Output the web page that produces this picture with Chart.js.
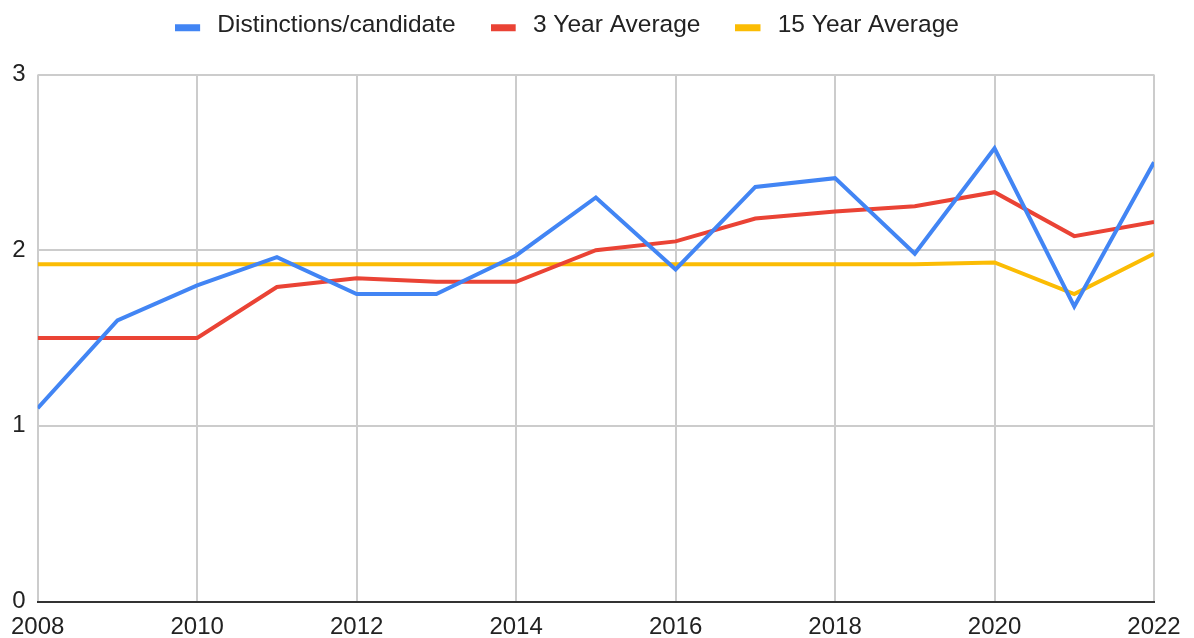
<!DOCTYPE html>
<html>
<head>
<meta charset="utf-8">
<script src="https://cdn.jsdelivr.net/npm/chart.js@4"></script>
<style>
  html, body { margin: 0; padding: 0; background: #fff; }
  #wrap { width: 1194px; height: 638px; }
</style>
</head>
<body>
<div id="wrap"><canvas id="c" width="1194" height="638"></canvas></div>
<script>
const years = [2008, 2009, 2010, 2011, 2012, 2013, 2014, 2015, 2016, 2017, 2018, 2019, 2020, 2021, 2022];
const distinctions = [1.10, 1.60, 1.80, 1.96, 1.75, 1.75, 1.97, 2.30, 1.89, 2.36, 2.41, 1.98, 2.58, 1.68, 2.50];
const threeYearAvg = [1.50, 1.50, 1.50, 1.79, 1.84, 1.82, 1.82, 2.00, 2.05, 2.18, 2.22, 2.25, 2.33, 2.08, 2.16];
const fifteenYearAvg = [1.92, 1.92, 1.92, 1.92, 1.92, 1.92, 1.92, 1.92, 1.92, 1.92, 1.92, 1.92, 1.93, 1.75, 1.98];
const seriesNames = ['Distinctions/candidate', '3 Year Average', '15 Year Average'];
const seriesColors = ['#4285F4', '#EA4335', '#FBBC04'];

const toPoints = arr => arr.map((v, i) => ({ x: years[i], y: v }));
const FONT = '"Liberation Sans", Arial, sans-serif';

// legend swatch: 25x7 coloured bar, sitting low inside a 30x14 transparent canvas
function swatch(color) {
  const c = document.createElement('canvas');
  c.width = 30; c.height = 14;
  const g = c.getContext('2d');
  g.fillStyle = color;
  g.fillRect(0, 6, 25, 7);
  return c;
}

const legendShift = {
  id: 'legendShift',
  afterLayout(chart) {
    const lg = chart.legend;
    if (lg) {
      lg.left -= 10; lg.right -= 10;
      lg.top -= 27; lg.bottom -= 27;
    }
  }
};

new Chart(document.getElementById('c'), {
  type: 'line',
  data: {
    datasets: [distinctions, threeYearAvg, fifteenYearAvg].map((arr, i) => ({
      label: seriesNames[i],
      data: toPoints(arr),
      borderColor: seriesColors[i],
      backgroundColor: seriesColors[i],
      borderWidth: 4,
      pointRadius: 0,
      pointHoverRadius: 0,
      pointStyle: swatch(seriesColors[i]),
      tension: 0,
      fill: false
    }))
  },
  plugins: [legendShift],
  options: {
    responsive: false,
    animation: false,
    layout: { padding: { left: 0, right: 40, top: 5, bottom: -14.3 } },
    plugins: {
      legend: {
        position: 'top',
        labels: {
          usePointStyle: true,
          pointStyleWidth: 30,
          boxHeight: 14,
          padding: 35,
          color: '#222',
          font: { family: FONT, size: 24.5 }
        }
      },
      tooltip: { enabled: false }
    },
    scales: {
      x: {
        type: 'linear',
        min: 2008,
        max: 2022,
        ticks: {
          stepSize: 2,
          padding: 11,
          color: '#222',
          font: { family: FONT, size: 24 },
          maxRotation: 0,
          callback: v => String(v)
        },
        grid: { color: '#cccccc', lineWidth: 2, drawTicks: false },
        border: { display: true, color: '#333333', width: 2 }
      },
      y: {
        min: 0,
        max: 3,
        ticks: {
          stepSize: 1,
          padding: 12,
          color: '#222',
          font: { family: FONT, size: 24 }
        },
        grid: {
          color: ctx => (ctx.tick && ctx.tick.value === 0) ? '#333333' : '#cccccc',
          lineWidth: 2,
          drawTicks: false
        },
        border: { display: false }
      }
    }
  }
});
</script>
</body>
</html>
